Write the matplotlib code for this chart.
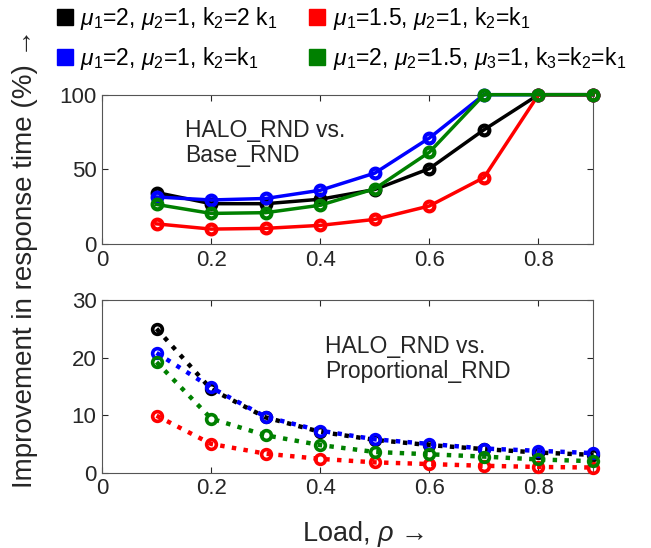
import matplotlib
matplotlib.use('Agg')
import matplotlib.pyplot as plt
from matplotlib.lines import Line2D

plt.rcParams['font.family'] = ['Liberation Sans', 'DejaVu Sans']
plt.rcParams['mathtext.fontset'] = 'custom'
plt.rcParams['mathtext.rm'] = 'Liberation Sans'
plt.rcParams['mathtext.it'] = 'Liberation Sans:italic'

load = [0.1, 0.2, 0.3, 0.4, 0.5, 0.6, 0.7, 0.8, 0.9]

# HALO_RND vs. Base_RND
base_black = [34.5, 27, 27, 30, 36.5, 50.5, 76.5, 100, 100]
base_blue = [31.5, 29.5, 30.5, 36, 47.5, 71, 100, 100, 100]
base_red = [13.5, 10, 10.5, 12.5, 16.5, 25.5, 44.5, 100, 100]
base_green = [26.5, 20.5, 21, 26, 37, 61.5, 100, 100, 100]

# HALO_RND vs. Proportional_RND
prop_black = [25, 14.5, 9.6, 7.1, 5.7, 4.8, 4.1, 3.5, 3.1]
prop_blue = [20.8, 14.8, 9.7, 7.3, 5.8, 5.0, 4.2, 3.8, 3.4]
prop_red = [9.9, 5.0, 3.3, 2.4, 1.8, 1.5, 1.2, 1.0, 0.9]
prop_green = [19.2, 9.4, 6.5, 4.8, 3.6, 3.2, 2.8, 2.3, 2.0]

labels = [r'$\mu_1$=2, $\mu_2$=1, k$_2$=2 k$_1$',
          r'$\mu_1$=2, $\mu_2$=1, k$_2$=k$_1$',
          r'$\mu_1$=1.5, $\mu_2$=1, k$_2$=k$_1$',
          r'$\mu_1$=2, $\mu_2$=1.5, $\mu_3$=1, k$_3$=k$_2$=k$_1$']
colors = ['black', 'blue', 'red', 'green']

grey = '#262626'
fs = 16.5
fig = plt.figure(figsize=(6.51, 5.48), dpi=100)
ax1 = fig.add_axes([0.1567, 0.5547, 0.7543, 0.2725])
ax2 = fig.add_axes([0.1567, 0.1374, 0.7543, 0.3152])

for ys, c in zip([base_black, base_blue, base_red, base_green], colors):
    ax1.plot(load, ys, '-', color=c, lw=2.5, marker='o', ms=7,
             mfc='none', mew=3, clip_on=False, zorder=3)
for ys, c in zip([prop_black, prop_blue, prop_red, prop_green], colors):
    ax2.plot(load, ys, ':', color=c, lw=3.2, marker='o', ms=7,
             mfc='none', mew=2.6, clip_on=False, zorder=3)

ax1.set_ylim(0, 100)
ax1.set_yticks([0, 50, 100])
ax2.set_ylim(0, 30)
ax2.set_yticks([0, 10, 20, 30])
for ax in (ax1, ax2):
    ax.set_xlim(0, 0.9)
    ax.set_xticks([0, 0.2, 0.4, 0.6, 0.8])
    ax.set_xticklabels(['0', '0.2', '0.4', '0.6', '0.8'])
    ax.tick_params(direction='in', top=True, right=True, labelsize=16,
                   colors=grey, length=4, width=0.8, pad=4)
    for s in ax.spines.values():
        s.set_color('#555555')
        s.set_linewidth(0.8)

ax1.text(0.152, 83.5, 'HALO_RND vs.\nBase_RND', fontsize=fs, color=grey,
         va='top', ha='left', linespacing=1.12)
ax2.text(0.409, 24, 'HALO_RND vs.\nProportional_RND', fontsize=fs,
         color=grey, va='top', ha='left', linespacing=1.12)

fig.text(0.038, 1 - 488 / 548, 'Improvement in response time (%) \u2192',
         rotation=90, fontsize=20, color=grey, ha='center', va='bottom')
fig.text(0.464, 0.0128, r'Load, $\rho$ \u2192'.replace('\\u2192', '\u2192'),
         fontsize=19.5, color=grey, ha='left', va='baseline')

handles = [Line2D([], [], ls='none', marker='s', ms=12.2, color=c) for c in colors]
fig.legend(handles, labels, ncol=2, loc='upper left',
           bbox_to_anchor=(56 / 651, 0.99), frameon=False, fontsize=fs,
           handlelength=0.75, handletextpad=0.3, columnspacing=1.35,
           labelspacing=0.55, borderpad=0, borderaxespad=0)

fig.savefig('out.png', dpi=100)
